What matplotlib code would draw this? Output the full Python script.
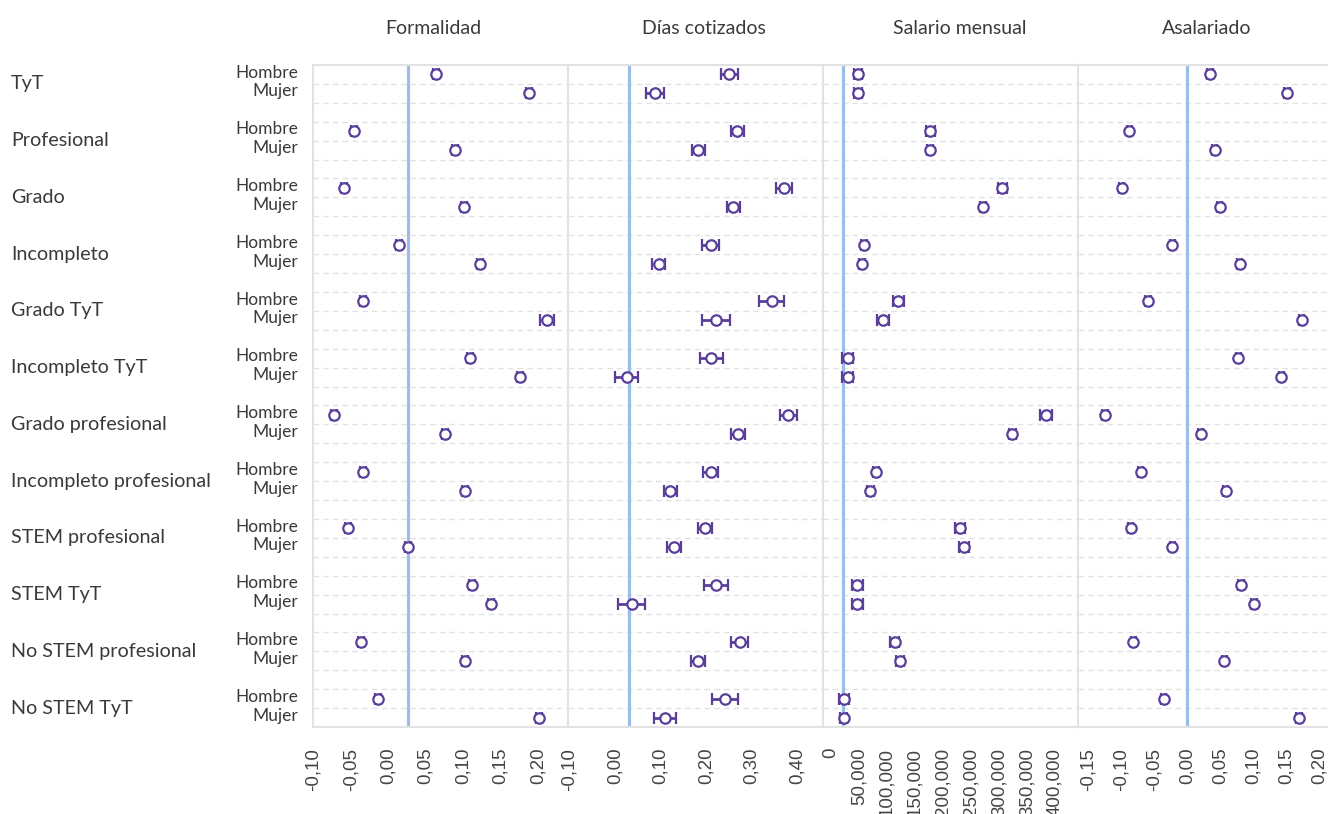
import numpy as np
import matplotlib.pyplot as plt
from matplotlib.ticker import FixedLocator, FuncFormatter

# --- datos ---
grupos = ["TyT", "Profesional", "Grado", "Incompleto", "Grado TyT", "Incompleto TyT",
          "Grado profesional", "Incompleto profesional", "STEM profesional", "STEM TyT",
          "No STEM profesional", "No STEM TyT"]
sexos = ["Hombre", "Mujer"]
titulos = ["Formalidad", "Días cotizados", "Salario mensual", "Asalariado"]

formalidad_h = [0.064, -0.046, -0.059, 0.014, -0.033, 0.109, -0.072, -0.033, -0.053, 0.112, -0.036, -0.013]
formalidad_m = [0.188, 0.089, 0.101, 0.123, 0.212, 0.176, 0.076, 0.102, 0.027, 0.137, 0.102, 0.201]
formalidad_err_h = [0.004] * 12
formalidad_err_m = [0.004, 0.004, 0.004, 0.004, 0.009, 0.004, 0.004, 0.004, 0.004, 0.004, 0.004, 0.004]

dias_h = [0.251, 0.269, 0.371, 0.210, 0.344, 0.212, 0.381, 0.210, 0.198, 0.222, 0.274, 0.242]
dias_m = [0.088, 0.183, 0.260, 0.096, 0.222, 0.026, 0.270, 0.122, 0.130, 0.037, 0.182, 0.110]
dias_err_h = [0.019, 0.014, 0.018, 0.018, 0.028, 0.025, 0.019, 0.016, 0.016, 0.027, 0.019, 0.029]
dias_err_m = [0.020, 0.014, 0.014, 0.014, 0.030, 0.025, 0.016, 0.015, 0.016, 0.030, 0.015, 0.025]

salario_h = [48200, 176800, 305400, 58900, 120200, 29800, 383900, 80400, 230400, 47000, 113700, 23200]
salario_m = [48200, 176800, 271400, 55400, 92900, 29800, 323800, 70200, 237000, 47000, 123200, 22600]
salario_err_h = [7000, 8000, 8000, 6000, 10000, 9500, 10000, 6000, 9000, 9500, 8000, 9000]
salario_err_m = [7000, 6000, 6000, 6000, 10000, 9500, 6000, 6000, 9000, 9500, 7000, 6000]

asalariado_h = [0.034, -0.088, -0.100, -0.023, -0.060, 0.077, -0.125, -0.071, -0.086, 0.081, -0.082, -0.036]
asalariado_m = [0.151, 0.041, 0.049, 0.079, 0.173, 0.142, 0.020, 0.058, -0.023, 0.101, 0.056, 0.169]
asalariado_err_h = [0.004] * 12
asalariado_err_m = [0.004] * 12

# lineas de referencia
referencias = [0.027, 0.031, 21400, 0.0]

ticks_formalidad = [-0.10, -0.05, 0.00, 0.05, 0.10, 0.15, 0.20]
ticks_dias = [-0.10, 0.00, 0.10, 0.20, 0.30, 0.40]
ticks_salario = [0, 50000, 100000, 150000, 200000, 250000, 300000, 350000, 400000]
ticks_asalariado = [-0.15, -0.10, -0.05, 0.00, 0.05, 0.10, 0.15, 0.20]

paneles = [
    (formalidad_h, formalidad_m, formalidad_err_h, formalidad_err_m, ticks_formalidad, (-0.1003, 0.240)),
    (dias_h, dias_m, dias_err_h, dias_err_m, ticks_dias, (-0.103, 0.457)),
    (salario_h, salario_m, salario_err_h, salario_err_m, ticks_salario, (-14300, 441000)),
    (asalariado_h, asalariado_m, asalariado_err_h, asalariado_err_m, ticks_asalariado, (-0.166, 0.213)),
]

MORADO = "#5a3f9a"
AZUL = "#9dbde9"
GRIS = "#e2e2e2"
TEXTO = "#3a3a3a"
FUENTE = "Lato"


def fmt_decimal(v, pos):
    return f"{v:.2f}".replace(".", ",")


def fmt_miles(v, pos):
    return "0" if v == 0 else f"{int(round(v)):,}"


W, H = 1328, 814
fig = plt.figure(figsize=(W / 100, H / 100), dpi=100)

n_filas = 3 * len(grupos) - 1
y_h = np.arange(len(grupos)) * 3
y_m = y_h + 1

izq = [313, 568, 823, 1078]
der = [568, 823, 1078, 1328]
top_px, bot_px = 65, 727
centros_titulo = [433, 704, 960, 1207]

ejes = []
for i, (vh, vm, eh, em, ticks, lim) in enumerate(paneles):
    ax = fig.add_axes([izq[i] / W, 1 - bot_px / H, (der[i] - izq[i]) / W, (bot_px - top_px) / H])
    ejes.append(ax)
    ax.set_xlim(*lim)
    ax.set_ylim(n_filas - 0.5, -0.5)

    # lineas punteadas horizontales
    for k in range(n_filas - 1):
        ax.axhline(k + 0.5, color=GRIS, lw=1, ls=(0, (4, 3)), zorder=1)

    ax.axvline(referencias[i], color=AZUL, lw=2.3, zorder=2)

    for y, v, e in ((y_h, vh, eh), (y_m, vm, em)):
        ax.errorbar(v, y, xerr=e, fmt="o", ms=7.5, mfc="white", mec=MORADO, mew=1.6,
                    ecolor=MORADO, elinewidth=2, capsize=4.5, capthick=2.6, zorder=3)

    ax.xaxis.set_major_locator(FixedLocator(ticks))
    if i == 2:
        ax.xaxis.set_major_formatter(FuncFormatter(fmt_miles))
    else:
        ax.xaxis.set_major_formatter(FuncFormatter(fmt_decimal))
    ax.tick_params(axis="x", length=0, pad=15, labelrotation=90, labelsize=13.5,
                   labelcolor="#444444")
    for lbl in ax.get_xticklabels():
        lbl.set_fontfamily("Liberation Sans")
    ax.set_yticks([])

    for lado in ["left", "top", "bottom"]:
        ax.spines[lado].set_color(GRIS)
        ax.spines[lado].set_linewidth(1.5)
    ax.spines["right"].set_visible(False)

    fig.text(centros_titulo[i] / W, 1 - 28 / H, titulos[i], ha="center", va="center",
             fontsize=14, color=TEXTO, family=FUENTE)

# etiquetas de la izquierda
ax0 = ejes[0]
for g, nombre in enumerate(grupos):
    ax0.annotate(nombre, xy=(11 / W, 3 * g + 0.5), xycoords=("figure fraction", "data"),
                 ha="left", va="center", fontsize=14.2, color=TEXTO, family=FUENTE)
    for j, s in enumerate(sexos):
        ax0.annotate(s, xy=(298 / W, 3 * g + j - 0.1), xycoords=("figure fraction", "data"),
                     ha="right", va="center", fontsize=12.5, color=TEXTO, family=FUENTE)

fig.savefig("out.png", dpi=100, facecolor="white")
